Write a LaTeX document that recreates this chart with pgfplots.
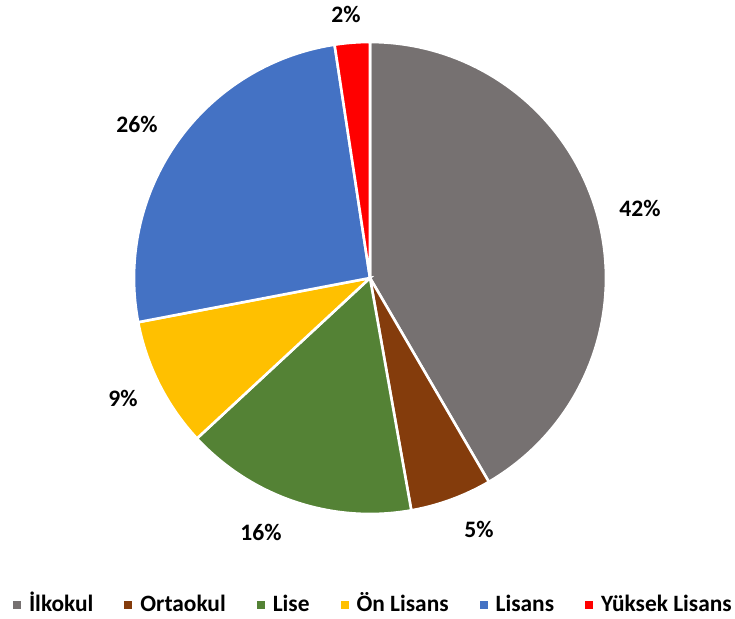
\documentclass[border=0pt]{standalone}
\usepackage{pgfplots}
\pgfplotsset{compat=1.18}
\usepackage{fontspec}
\setmainfont{Carlito}
\definecolor{cA}{HTML}{767171}
\definecolor{cB}{HTML}{843C0C}
\definecolor{cC}{HTML}{548235}
\definecolor{cD}{HTML}{FFC000}
\definecolor{cE}{HTML}{4472C4}
\definecolor{cF}{HTML}{FF0000}
% shares (percent) of each category
\def\vA{41.6}% Ilkokul
\def\vB{5.6}%  Ortaokul
\def\vC{15.9}% Lise
\def\vD{8.9}%  On Lisans
\def\vE{25.6}% Lisans
\def\vF{2.4}%  Yuksek Lisans
\pgfmathsetmacro\aO{90}
\pgfmathsetmacro\aA{\aO-3.6*\vA}
\pgfmathsetmacro\aB{\aA-3.6*\vB}
\pgfmathsetmacro\aC{\aB-3.6*\vC}
\pgfmathsetmacro\aD{\aC-3.6*\vD}
\pgfmathsetmacro\aE{\aD-3.6*\vE}
\pgfmathsetmacro\aF{\aE-3.6*\vF}
\begin{document}
\begin{tikzpicture}
\begin{axis}[
  scale only axis, width=367.5pt, height=309pt,
  xmin=0, xmax=735, ymin=0, ymax=618,
  hide axis, clip=false,
  legend columns=-1,
  legend style={at={(axis cs:13,13)}, anchor=west, draw=none, fill=none,
    font=\fontsize{11.7pt}{14pt}\selectfont\bfseries,
    inner sep=0pt, outer sep=0pt,
    nodes={inner sep=0pt, text height=8pt, text depth=2pt},
    /tikz/every odd column/.append style={column sep=4pt},
    /tikz/every even column/.append style={column sep=15.5pt}},
  legend image code/.code={\fill[#1, draw=none] (0pt,-2pt) rectangle (4pt,2pt);},
  every axis plot/.append style={draw=white, line width=1.3pt, samples=90, variable=\t},
]
\addplot[fill=cA, domain=\aA:\aO] ({370+236*cos(\t)}, {340+236*sin(\t)}) -- (axis cs:370,340) -- cycle;
\addlegendentry{İlkokul}
\addplot[fill=cB, domain=\aB:\aA] ({370+236*cos(\t)}, {340+236*sin(\t)}) -- (axis cs:370,340) -- cycle;
\addlegendentry{Ortaokul}
\addplot[fill=cC, domain=\aC:\aB] ({370+236*cos(\t)}, {340+236*sin(\t)}) -- (axis cs:370,340) -- cycle;
\addlegendentry{Lise}
\addplot[fill=cD, domain=\aD:\aC] ({370+236*cos(\t)}, {340+236*sin(\t)}) -- (axis cs:370,340) -- cycle;
\addlegendentry{Ön Lisans}
\addplot[fill=cE, domain=\aE:\aD] ({370+236*cos(\t)}, {340+236*sin(\t)}) -- (axis cs:370,340) -- cycle;
\addlegendentry{Lisans}
\addplot[fill=cF, domain=\aF:\aE] ({370+236*cos(\t)}, {340+236*sin(\t)}) -- (axis cs:370,340) -- cycle;
\addlegendentry{Yüksek Lisans}
\begin{scope}[font=\fontsize{11.8pt}{14pt}\selectfont\bfseries]
\node at (axis cs:640,410) {42\%};
\node at (axis cs:479,89) {5\%};
\node at (axis cs:261,86) {16\%};
\node at (axis cs:123,220) {9\%};
\node at (axis cs:137,494) {26\%};
\node at (axis cs:346,604) {2\%};
\end{scope}
\coordinate (LL) at (axis cs:0,0);
\coordinate (UR) at (axis cs:735,618);
\end{axis}
\pgfresetboundingbox
\path[use as bounding box] (LL) rectangle (UR);
\end{tikzpicture}
\end{document}
